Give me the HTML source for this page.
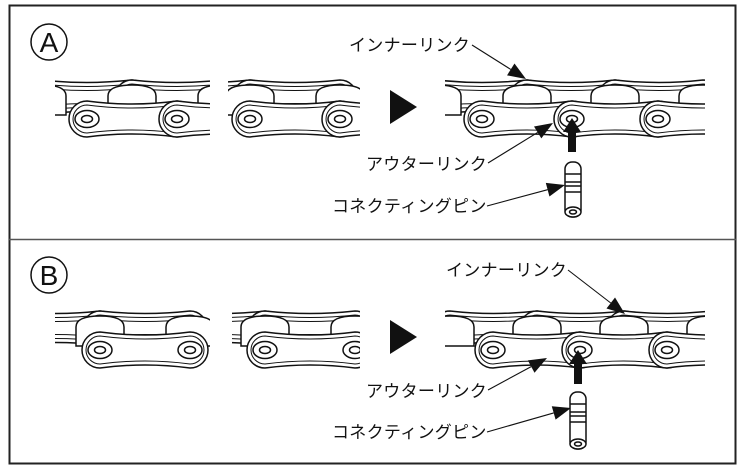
<!DOCTYPE html>
<html><head><meta charset="utf-8"><style>
html,body{margin:0;padding:0;background:#fff;width:741px;height:469px;overflow:hidden}
svg{display:block}
text{font-family:"Liberation Sans","Noto Sans CJK JP",sans-serif;font-size:17px;letter-spacing:0.3px;fill:#111}
</style></head><body>
<svg id="s" width="741" height="469" viewBox="0 0 741 469" xmlns="http://www.w3.org/2000/svg">
<rect x="9.5" y="5.5" width="726" height="458" fill="none" stroke="#222" stroke-width="2"/>
<line x1="9" y1="239.5" x2="736" y2="239.5" stroke="#555" stroke-width="1.5"/>
<circle cx="49" cy="42" r="18" fill="none" stroke="#111" stroke-width="1.5"/>
<text x="49" y="52" text-anchor="middle" style="font-size:28px;letter-spacing:0">A</text>
<circle cx="49" cy="275" r="18" fill="none" stroke="#111" stroke-width="1.5"/>
<text x="49" y="285" text-anchor="middle" style="font-size:28px;letter-spacing:0">B</text>
<path d="M390,90 L417,107 L390,124z" fill="#111"/>
<path d="M390,320 L417,337 L390,354z" fill="#111"/>
<g id="chains"></g>
<text x="349" y="51">インナーリンク</text>
<text x="366" y="170">アウターリンク</text>
<text x="332" y="212">コネクティングピン</text>
<text x="446" y="276">インナーリンク</text>
<text x="366" y="397">アウターリンク</text>
<text x="332" y="438">コネクティングピン</text>
<g id="leaders"></g>
<path d="M568,152 L568,132 L563,132 L572,118 L581,132 L576,132 L576,152z" fill="#111"/>
<path d="M574,384 L574,364 L569,364 L578,350 L587,364 L582,364 L582,384z" fill="#111"/>
<g id="pins"></g>
</svg>
<script>
var g=document.getElementById('chains'),S='';
var cid=0;
function plate(a,b,cy,r,w){
 var m=(a+b)/2;
 return 'M'+a+','+(cy-r)+' Q'+m+','+(cy-r+w)+' '+b+','+(cy-r)+' A'+r+','+r+' 0 0 1 '+b+','+(cy+r)+' Q'+m+','+(cy+r-w)+' '+a+','+(cy+r)+' A'+r+','+r+' 0 0 1 '+a+','+(cy-r)+'z';
}
function chain(x0,x1,cy,lp,up){
 cid++;
 var s='<clipPath id="c'+cid+'"><rect x="'+x0+'" y="'+(cy-60)+'" width="'+(x1-x0)+'" height="120"/></clipPath><g clip-path="url(#c'+cid+')" fill="#fff" stroke="#111" stroke-width="1.5">';
 var uy=cy-22;
 for(var i=0;i<up.length-1;i++){
  s+='<path d="'+plate(up[i],up[i+1],uy,17,5)+'"/>';
  s+='<path d="'+plate(up[i],up[i+1],uy,13,5)+'" stroke-width="1"/>';
  s+='<path d="'+plate(up[i],up[i+1],uy,9,5)+'" stroke-width="1"/>';
 }
 for(var i=0;i<up.length;i++){
  var x=up[i];
  s+='<path d="M'+(x-24)+','+(cy-4)+' L'+(x-24)+','+(uy-1)+' Q'+(x-24)+','+(uy-12)+' '+x+','+(uy-12)+' Q'+(x+24)+','+(uy-12)+' '+(x+24)+','+(uy-1)+' L'+(x+24)+','+(cy-4)+'z"/>';
 }
 for(var i=0;i<lp.length-1;i++){
  s+='<path d="'+plate(lp[i],lp[i+1],cy,18,6)+'"/>';
  s+='<path d="'+plate(lp[i],lp[i+1],cy,14,6)+'" stroke-width="1"/>';
 }
 for(var i=0;i<lp.length;i++){
  s+='<ellipse cx="'+lp[i]+'" cy="'+cy+'" rx="12" ry="8.5"/><ellipse cx="'+lp[i]+'" cy="'+cy+'" rx="5.5" ry="3.5"/>';
 }
 s+='</g>';
 return s;
}
S+=chain(55,210,119,[87,177,267],[0,42,132,222]);
S+=chain(228,360,119,[250,340,430],[160,250,340]);
S+=chain(445,705,119,[482,572,658,748],[437,527,615,703]);
S+=chain(55,210,350,[100,190],[12,100,190]);
S+=chain(232,360,350,[265,355],[178,265,355]);
S+=chain(445,705,350,[493,580,667,755],[450,537,624,711]);
g.innerHTML=S;
function lead(x1,y1,x2,y2){
 var dx=x2-x1,dy=y2-y1,L=Math.hypot(dx,dy),ux=dx/L,uy=dy/L,len=18,hw=7;
 var bx=x2-ux*len,by=y2-uy*len;
 return '<line x1="'+x1+'" y1="'+y1+'" x2="'+bx+'" y2="'+by+'" stroke="#111" stroke-width="1.1"/>'+
 '<path d="M'+x2+','+y2+' L'+(bx-uy*hw)+','+(by+ux*hw)+' L'+(bx+uy*hw)+','+(by-ux*hw)+'z" fill="#111"/>';
}
document.getElementById('leaders').innerHTML=
 lead(472,45,526,79)+lead(488,163,553,123)+lead(487,206,565,185)+
 lead(568,270,625,314)+lead(488,390,547,358)+lead(487,432,571,408);
function pin(x,y1,y2){
 var w=8;
 return '<g fill="#fff" stroke="#111" stroke-width="1.5"><rect x="'+(x-w)+'" y="'+y1+'" width="'+(2*w)+'" height="'+(y2-y1)+'" rx="7"/>'+
 '<line x1="'+(x-w)+'" y1="'+(y1+12)+'" x2="'+(x+w)+'" y2="'+(y1+12)+'"/>'+
 '<line x1="'+(x-w)+'" y1="'+(y1+20)+'" x2="'+(x+w)+'" y2="'+(y1+20)+'"/>'+
 '<line x1="'+(x-w)+'" y1="'+(y1+24)+'" x2="'+(x+w)+'" y2="'+(y1+24)+'"/>'+
 '<line x1="'+(x-w)+'" y1="'+(y1+30)+'" x2="'+(x+w)+'" y2="'+(y1+30)+'"/>'+
 '<ellipse cx="'+x+'" cy="'+(y2-5)+'" rx="'+w+'" ry="5"/><ellipse cx="'+x+'" cy="'+(y2-5)+'" rx="3.5" ry="2"/></g>';
}
document.getElementById('pins').innerHTML=pin(573,162,217)+pin(578,392,449);
</script>
</body></html>
